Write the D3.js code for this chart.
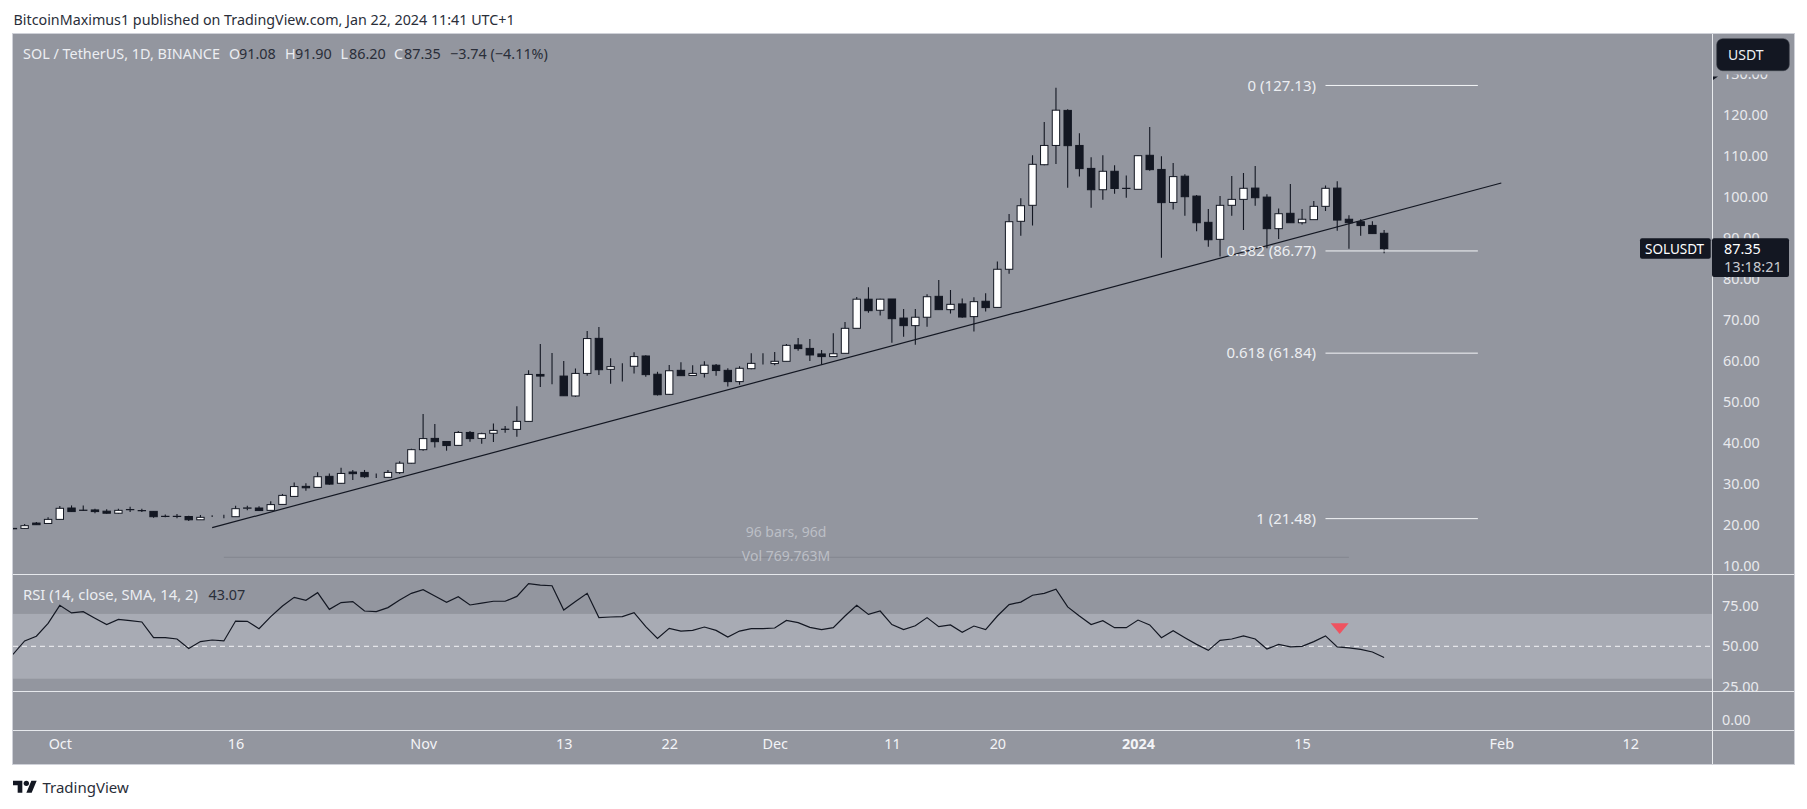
<!DOCTYPE html>
<html>
<head>
<meta charset="utf-8">
<title>SOLUSDT</title>
<script src="https://cdn.jsdelivr.net/npm/d3@7"></script>
<style>
  body { margin: 0; background: #fff; }
  svg { display: block; }
  text { font-family: "Noto Sans", sans-serif; }
  .domain { display: none; }
</style>
</head>
<body>
<svg id="chart" width="1807" height="809"></svg>
<script>
// daily candles, first one is 27 Sep 2023
const firstDay = new Date(Date.UTC(2023, 8, 27));

const opens = [19.0, 19.1, 20.4, 20.3, 21.3, 24.07, 23.55, 23.6, 23.3, 22.8, 23.65, 23.45, 23.25, 22.05, 22.0, 22.0, 21.2, 22.0, 22.0,
  21.95, 24.0, 24.07, 23.5, 24.95, 26.9, 29.35, 29.1, 31.8, 30.1, 32.85, 32.75, 32.0, 31.55, 32.7, 35.0, 38.3, 41.05, 40.3, 39.35,
  42.5, 41.05, 42.3, 43.3, 43.25, 45.2, 56.65, 56.4, 56.25, 51.4, 56.9, 65.45, 57.9, 58.7, 58.65, 61.15, 56.7, 51.8, 57.65, 56.4,
  56.9, 58.9, 57.65, 54.9, 58.05, 59.3, 59.3, 59.85, 63.85, 63.0, 61.65, 61.0, 61.8, 67.9, 75.0, 72.3, 75.05, 70.4, 68.55, 70.6,
  75.7, 72.45, 73.85, 70.75, 74.5, 73.0, 82.3, 94.0, 97.9, 107.8, 112.5, 121.05, 112.5, 106.9, 101.7, 106.2, 102.0, 101.8, 110.1,
  106.65, 98.6, 105.0, 100.15, 93.75, 89.6, 97.9, 99.35, 102.1, 99.9, 92.2, 95.95, 93.65, 94.4, 97.65, 102.1, 94.5, 93.9, 93.0, 91.08];
const highs = [19.2, 20.2, 20.65, 21.8, 24.55, 24.7, 24.7, 23.9, 23.75, 23.9, 24.4, 23.9, 23.3, 22.5, 22.6, 22.2, 22.35, 22.3, 22.45,
  24.6, 24.6, 24.5, 25.7, 27.5, 30.3, 30.1, 32.8, 32.5, 33.9, 33.35, 33.35, 32.5, 33.35, 35.5, 38.5, 47.0, 44.55, 40.3, 42.85,
  42.85, 42.45, 44.7, 44.05, 48.9, 57.7, 64.05, 61.85, 59.9, 58.1, 67.25, 68.2, 60.6, 59.35, 62.05, 61.3, 57.3, 58.95, 59.6, 58.9,
  59.85, 59.2, 58.15, 58.65, 61.8, 61.8, 62.1, 64.1, 65.55, 65.3, 62.6, 66.7, 69.45, 75.55, 77.9, 75.1, 75.05, 72.6, 72.6, 76.2,
  79.7, 77.25, 75.2, 75.45, 76.45, 84.2, 95.8, 99.6, 110.1, 118.2, 126.6, 121.3, 115.45, 109.6, 110.1, 107.65, 105.2, 110.1, 117.0,
  109.85, 108.2, 105.45, 100.4, 97.0, 100.2, 105.05, 105.8, 107.5, 100.6, 97.15, 103.1, 97.0, 98.95, 102.75, 103.75, 95.5, 94.5, 94.0, 91.9];
const lows = [18.9, 19.0, 19.9, 20.2, 21.2, 23.1, 23.4, 22.8, 22.7, 22.7, 23.1, 23.1, 21.7, 21.8, 21.55, 20.9, 21.15, 21.9, 21.6,
  21.95, 23.5, 23.35, 23.35, 24.95, 26.8, 28.3, 29.0, 29.75, 30.0, 30.9, 31.45, 31.4, 31.45, 32.35, 34.9, 38.05, 38.8, 38.05, 39.3,
  40.25, 39.75, 40.15, 42.45, 41.45, 45.2, 53.6, 54.25, 51.45, 51.2, 56.35, 56.5, 54.4, 54.9, 56.85, 56.1, 51.5, 51.7, 56.35, 56.35,
  55.9, 56.35, 53.7, 54.15, 57.9, 59.05, 58.9, 59.85, 62.45, 59.9, 59.1, 61.0, 61.8, 67.9, 71.7, 71.0, 64.4, 65.85, 63.9, 68.3,
  72.45, 71.5, 70.5, 67.1, 72.0, 72.9, 81.2, 90.5, 92.95, 107.65, 107.97, 102.2, 104.9, 97.3, 99.25, 100.7, 99.75, 101.8, 106.35,
  85.1, 96.85, 95.35, 91.6, 87.8, 85.4, 95.35, 91.9, 97.8, 87.4, 89.7, 93.65, 93.2, 94.4, 96.5, 91.7, 87.3, 90.5, 91.0, 86.2];
const closes = [19.1, 19.76, 20.0, 21.3, 24.0, 23.2, 23.5, 23.2, 22.8, 23.5, 23.7, 23.4, 21.95, 22.0, 22.05, 21.2, 21.8, 22.0, 22.0,
  23.9, 24.1, 23.45, 24.9, 27.15, 29.3, 29.0, 31.7, 29.9, 32.5, 32.45, 31.7, 32.0, 32.75, 35.0, 38.3, 41.0, 40.25, 39.3, 42.5,
  41.0, 42.2, 43.0, 43.25, 45.2, 56.65, 56.25, 56.4, 51.45, 56.9, 65.4, 57.8, 58.55, 58.7, 61.0, 56.6, 51.7, 57.55, 56.35, 56.9,
  58.9, 57.6, 54.9, 58.15, 59.35, 59.3, 59.85, 63.75, 62.95, 61.4, 61.0, 61.7, 67.9, 75.0, 72.2, 75.0, 70.25, 68.55, 70.6, 75.6,
  72.45, 73.75, 70.65, 74.4, 72.95, 82.3, 93.9, 97.8, 107.9, 112.5, 121.1, 112.45, 106.85, 101.7, 106.2, 102.0, 102.05, 110.0, 106.6,
  98.55, 104.9, 100.0, 93.65, 89.5, 97.9, 99.35, 102.05, 99.75, 92.2, 95.85, 93.65, 94.5, 97.65, 102.05, 94.3, 93.65, 92.95, 91.0, 87.35];

const rsiValues = [45.0, 53.3, 56.2, 64.2, 75.3, 70.6, 71.4, 67.3, 63.4, 66.6, 65.8, 65.0, 55.3, 55.3, 54.5, 48.7, 52.9, 53.9, 53.3,
  65.6, 65.4, 60.9, 68.3, 74.9, 80.2, 78.4, 83.1, 72.8, 77.0, 77.6, 71.8, 71.4, 73.9, 78.6, 82.7, 85.0, 81.0, 77.1, 80.6,
  75.5, 76.7, 77.8, 77.8, 80.8, 88.7, 87.8, 87.4, 72.4, 77.6, 82.7, 67.7, 68.1, 68.3, 70.8, 62.1, 54.9, 61.1, 59.4, 59.8,
  61.9, 59.8, 55.7, 59.4, 60.9, 60.9, 61.3, 66.0, 64.6, 61.7, 60.3, 61.5, 68.7, 75.3, 69.7, 71.8, 63.4, 60.3, 62.7, 67.7,
  62.1, 63.2, 58.6, 62.5, 60.3, 68.7, 75.7, 77.3, 81.5, 82.7, 85.2, 74.3, 68.7, 63.4, 65.8, 61.5, 61.5, 66.2, 63.2,
  55.3, 59.6, 55.3, 51.2, 47.5, 53.7, 54.5, 56.4, 54.5, 48.3, 51.2, 49.6, 50.0, 52.9, 56.4, 49.6, 49.0, 48.1, 46.5, 43.07];

const priceTicks = [10, 20, 30, 40, 50, 60, 70, 80, 90, 100, 110, 120, 130];
const rsiTicks = [25, 50, 75];
const timeTicks = ["2023-10-01", "2023-10-16", "2023-11-01", "2023-11-13", "2023-11-22", "2023-12-01",
  "2023-12-11", "2023-12-20", "2024-01-01", "2024-01-15", "2024-02-01", "2024-02-12"];
const timeLabels = ["Oct", "16", "Nov", "13", "22", "Dec", "11", "20", "2024", "15", "Feb", "12"];

const fibRatios = ["0", "0.382", "0.618", "1"];
const fibPrices = [127.13, 86.77, 61.84, 21.48];
const fibDays = ["2024-01-17", "2024-01-30"];

const trendDays = ["2023-10-14", "2024-02-01"];
const trendPrices = [19.27, 103.34];

const rangeDays = ["2023-10-15", "2024-01-19"];
const rangePrice = 12.05;

const legendNames = ["O", "H", "L", "C"];
const legendValues = ["91.08", "91.90", "86.20", "87.35"];

// panes (pixels)
const paneLeft = 13, axisX = 1712.5, paneRight = 1794, paneTop = 34, paneBottom = 764,
    priceBottom = 574, rsiBottom = 691, zeroBottom = 730;

const bgColor = "#93969f", bandColor = "#a8abb4", darkColor = "#131722", lightText = "#eceef2";

const svg = d3.select("#chart");

const day = s => new Date(s + "T00:00:00Z");

const x = d3.scaleUtc()
    .domain([day("2023-10-01"), day("2024-01-01")])
    .range([59.8, 1138]);

const y = d3.scaleLinear()
    .domain([10, 120])
    .range([565.7, 114.7]);

const yRsi = d3.scaleLinear()
    .domain([25, 75])
    .range([686.8, 605.8]);

const candles = closes.map((c, i) => ({
    date: d3.utcDay.offset(firstDay, i), open: opens[i], high: highs[i], low: lows[i], close: c
}));

function plotFrame() {
    svg.append("rect").attr("x", paneLeft).attr("y", paneTop).attr("width", paneRight - paneLeft).attr("height", paneBottom - paneTop)
        .attr("fill", bgColor);

    svg.append("clipPath").attr("id", "plotClip").append("rect")
        .attr("x", paneLeft).attr("y", paneTop).attr("width", axisX - paneLeft).attr("height", priceBottom - paneTop);
    svg.append("clipPath").attr("id", "rsiClip").append("rect")
        .attr("x", paneLeft).attr("y", priceBottom).attr("width", axisX - paneLeft).attr("height", rsiBottom - priceBottom);
}

function plotFrameLines() {
    const hLines = [priceBottom, rsiBottom, zeroBottom];
    svg.append("g").selectAll("line").data(hLines).enter().append("line")
        .attr("x1", paneLeft).attr("x2", paneRight).attr("y1", d => d + 0.5).attr("y2", d => d + 0.5)
        .attr("stroke", "#e6e8ec").attr("stroke-width", 1);
    svg.append("line").attr("x1", axisX).attr("x2", axisX).attr("y1", paneTop).attr("y2", paneBottom)
        .attr("stroke", "#e9ebee").attr("stroke-width", 1);
    svg.append("rect").attr("x", paneLeft - 0.5).attr("y", paneTop - 0.5).attr("width", paneRight - paneLeft + 1).attr("height", paneBottom - paneTop + 1)
        .attr("fill", "none").attr("stroke", "#cfd1d8").attr("stroke-width", 1);
}

function plotCandles() {
    let g = svg.append("g").attr("clip-path", "url(#plotClip)");

    g.append("g").selectAll("line").data(candles).enter().append("line")
        .attr("x1", d => x(d.date)).attr("x2", d => x(d.date))
        .attr("y1", d => y(d.high)).attr("y2", d => y(d.low))
        .attr("stroke", darkColor).attr("stroke-width", 1.1);

    g.append("g").selectAll("rect").data(candles).enter().append("rect")
        .attr("x", d => x(d.date) - 3.7)
        .attr("width", 7.4)
        .attr("y", d => y(Math.max(d.open, d.close)))
        .attr("height", d => Math.abs(y(d.open) - y(d.close)))
        .attr("fill", d => d.close > d.open ? "#ffffff" : darkColor)
        .attr("stroke", darkColor).attr("stroke-width", 1);
}

function plotDrawings() {
    // trend line
    svg.append("line")
        .attr("x1", x(day(trendDays[0]))).attr("y1", y(trendPrices[0]))
        .attr("x2", x(day(trendDays[1]))).attr("y2", y(trendPrices[1]))
        .attr("stroke", darkColor).attr("stroke-width", 1.2);

    // fib levels
    let fib = svg.append("g").selectAll("g").data(fibPrices).enter().append("g");
    fib.append("line")
        .attr("x1", x(day(fibDays[0]))).attr("x2", x(day(fibDays[1])))
        .attr("y1", d => y(d)).attr("y2", d => y(d))
        .attr("stroke", "#f4f5f7").attr("stroke-width", 1);
    fib.append("text")
        .attr("x", x(day(fibDays[0])) - 9.5)
        .attr("y", d => y(d))
        .attr("dy", "0.35em")
        .attr("text-anchor", "end")
        .attr("font-size", 15)
        .attr("fill", lightText)
        .text((d, i) => fibRatios[i] + " (" + d.toFixed(2) + ")");

    // date range measure
    svg.append("line")
        .attr("x1", x(day(rangeDays[0]))).attr("x2", x(day(rangeDays[1])))
        .attr("y1", y(rangePrice)).attr("y2", y(rangePrice))
        .attr("stroke", "#83868f").attr("stroke-width", 1);
    svg.append("text").attr("x", 786).attr("y", 532).attr("dy", "0.35em").attr("text-anchor", "middle")
        .attr("font-size", 14).attr("fill", "#bcbfc6").text("96 bars, 96d");
    svg.append("text").attr("x", 786).attr("y", 556).attr("dy", "0.35em").attr("text-anchor", "middle")
        .attr("font-size", 14).attr("fill", "#bcbfc6").text("Vol 769.763M");
}

function plotRsi() {
    svg.append("rect")
        .attr("x", paneLeft).attr("width", axisX - paneLeft)
        .attr("y", yRsi(70)).attr("height", yRsi(30) - yRsi(70))
        .attr("fill", bandColor);

    svg.append("line")
        .attr("x1", paneLeft).attr("x2", axisX)
        .attr("y1", yRsi(50)).attr("y2", yRsi(50))
        .attr("stroke", "#f2f3f5").attr("stroke-width", 1).attr("stroke-dasharray", "5 4");

    let rsiLine = d3.line()
        .x(d => x(d.date))
        .y(d => yRsi(d.rsi));

    svg.append("path")
        .datum(candles.map((d, i) => ({ date: d.date, rsi: rsiValues[i] })))
        .attr("clip-path", "url(#rsiClip)")
        .attr("d", rsiLine)
        .attr("fill", "none")
        .attr("stroke", darkColor).attr("stroke-width", 1.2);

    // red arrow above the breakdown
    let arrowX = x(d3.utcHour.offset(day("2024-01-18"), 5));
    let arrow = d3.path();
    arrow.moveTo(arrowX - 9, yRsi(64.2));
    arrow.lineTo(arrowX + 9, yRsi(64.2));
    arrow.lineTo(arrowX, yRsi(57.6));
    arrow.closePath();
    svg.append("path").attr("d", arrow.toString()).attr("fill", "#ef5360");
}

function plotAxes() {
    let priceAxis = d3.axisRight(y)
        .tickValues(priceTicks)
        .tickSize(0)
        .tickPadding(10.5)
        .tickFormat(d3.format(".2f"));

    let rsiAxis = d3.axisRight(yRsi)
        .tickValues(rsiTicks)
        .tickSize(0)
        .tickPadding(9.5)
        .tickFormat(d3.format(".2f"));

    let timeAxis = d3.axisBottom(x)
        .tickValues(timeTicks.map(day))
        .tickSize(0)
        .tickPadding(9)
        .tickFormat((d, i) => timeLabels[i]);

    let g1 = svg.append("g").attr("transform", "translate(" + axisX + ",0)").call(priceAxis);
    let g2 = svg.append("g").attr("transform", "translate(" + axisX + ",0)").call(rsiAxis);
    let g3 = svg.append("g").attr("transform", "translate(0," + zeroBottom + ")").call(timeAxis);

    [g1, g2, g3].forEach(g => {
        g.attr("font-family", null);
        g.selectAll("text").attr("font-size", 14.4).attr("fill", "#e8e9ed");
    });
    g3.selectAll("text").attr("fill", "#f3f4f7")
        .attr("font-weight", (d, i) => timeLabels[i] == "2024" ? 700 : 400);

    svg.append("text").attr("x", 1722).attr("y", 720).attr("dy", "0.35em")
        .attr("font-size", 14.4).attr("fill", "#e8e9ed").text("0.00");
}

function plotLabels() {
    svg.append("text").attr("x", 13.5).attr("y", 20).attr("dy", "0.35em")
        .attr("font-size", 14.3).attr("fill", "#2a2e39")
        .text("BitcoinMaximus1 published on TradingView.com, Jan 22, 2024 11:41 UTC+1");

    svg.append("text").attr("x", 23).attr("y", 54).attr("dy", "0.35em")
        .attr("font-size", 14.4).attr("fill", lightText).text("SOL / TetherUS, 1D, BINANCE");

    let legendX = [229, 285, 340.5, 394];
    let legendValX = [239, 295, 349, 404];
    legendNames.forEach((n, i) => {
        svg.append("text").attr("x", legendX[i]).attr("y", 54).attr("dy", "0.35em")
            .attr("font-size", 14.4).attr("fill", lightText).text(n);
        svg.append("text").attr("x", legendValX[i]).attr("y", 54).attr("dy", "0.35em")
            .attr("font-size", 14.4).attr("fill", "#2a2e39").text(legendValues[i]);
    });
    svg.append("text").attr("x", 450).attr("y", 54).attr("dy", "0.35em")
        .attr("font-size", 14.4).attr("fill", "#2a2e39").text("\u22123.74 (\u22124.11%)");

    svg.append("text").attr("x", 23).attr("y", 595).attr("dy", "0.35em")
        .attr("font-size", 14.8).attr("fill", lightText).text("RSI (14, close, SMA, 14, 2)");
    svg.append("text").attr("x", 208.5).attr("y", 595).attr("dy", "0.35em")
        .attr("font-size", 14.4).attr("fill", "#2a2e39").text("43.07");

    // currency button, covers the top of the scale
    svg.append("rect").attr("x", axisX + 1).attr("y", 35).attr("width", paneRight - axisX - 2).attr("height", 39.5).attr("fill", bgColor);
    svg.append("rect").attr("x", 1716.7).attr("y", 38.7).attr("width", 72.6).attr("height", 32).attr("rx", 6)
        .attr("fill", darkColor).attr("stroke", "#3a3e48").attr("stroke-width", 0.6);
    svg.append("text").attr("x", 1728).attr("y", 55).attr("dy", "0.35em")
        .attr("font-size", 14).attr("fill", "#eef0f3").text("USDT");
    svg.append("path").attr("d", "M1713 76.5L1718 76.5L1713 80Z").attr("fill", darkColor);

    // last price tags
    svg.append("rect").attr("x", 1640).attr("y", 238.3).attr("width", 70.7).attr("height", 20.4).attr("rx", 2).attr("fill", darkColor);
    svg.append("text").attr("x", 1645).attr("y", 249).attr("dy", "0.35em")
        .attr("font-size", 13.5).attr("fill", "#ffffff").text("SOLUSDT");
    svg.append("rect").attr("x", 1712).attr("y", 238.3).attr("width", 77).attr("height", 38.7).attr("rx", 2).attr("fill", darkColor);
    svg.append("text").attr("x", 1724).attr("y", 249).attr("dy", "0.35em")
        .attr("font-size", 14.4).attr("fill", "#ffffff").text("87.35");
    svg.append("text").attr("x", 1724).attr("y", 267).attr("dy", "0.35em")
        .attr("font-size", 14.6).attr("fill", "#c9cbd1").text("13:18:21");

    // logo
    svg.append("path")
        .attr("transform", "translate(13,778) scale(0.667)")
        .attr("d", "M14 22H7V11H0V4h14v18zM28 22h-8l7.5-18h8L28 22z")
        .attr("fill", darkColor);
    svg.append("circle").attr("cx", 13 + 20 * 0.667).attr("cy", 778 + 8 * 0.667).attr("r", 4 * 0.667).attr("fill", darkColor);
    svg.append("text").attr("x", 42.4).attr("y", 788).attr("dy", "0.35em")
        .attr("font-size", 15).attr("fill", "#2a2e39").text("TradingView");
}

plotFrame();
plotRsi();
plotCandles();
plotDrawings();
plotAxes();
plotFrameLines();
plotLabels();
</script>
</body>
</html>
